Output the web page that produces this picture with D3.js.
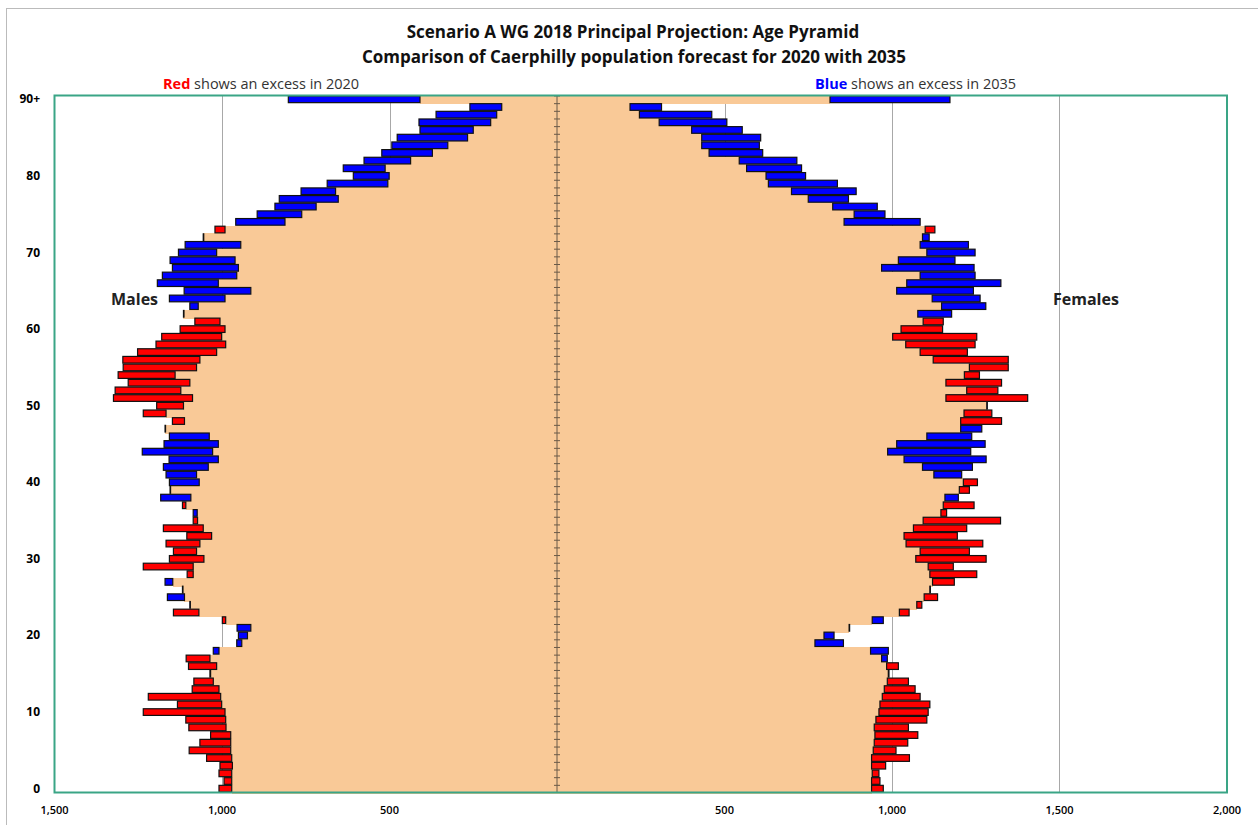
<!DOCTYPE html>
<html>
<head>
  <title>Age Pyramid</title>
  <script src="https://cdnjs.cloudflare.com/ajax/libs/d3/7.8.5/d3.min.js"></script>
  <style>
    body { margin: 0; background: #fff; }
    text { font-family: "Open Sans", "DejaVu Sans", sans-serif; }
    .title { font-size: 17px; font-weight: 700; fill: #111; }
    .note { font-size: 14.5px; }
    .ylab { font-size: 12px; font-weight: 700; }
    .xlab { font-size: 11px; font-weight: 600; }
    .side { font-size: 16px; font-weight: 700; fill: #222; }
  </style>
</head>
<body>
<svg width="1258" height="825"></svg>
<script>
// ages 0..90 (last one is 90+)
var ageLabels = ["0","10","20","30","40","50","60","70","80","90+"];
var xTicks = [-1500, -1000, -500, 500, 1000, 1500, 2000];
var gridTicks = [-1000, -500, 500, 1000, 1500];

// values, index = age
var male2020 = [1009,994,1009,1006,1046,1098,1066,1034,1099,1108,
  1235,1133,1220,1089,1084,1036,1100,1107,1009,941,
  924,914,999,1145,1096,1112,1118,1147,1104,1235,
  1157,1145,1167,1105,1175,1086,1074,1118,1093,1155,
  1068,1076,1041,1011,1028,1011,1038,1170,1148,1235,
  1195,1324,1319,1280,1310,1295,1296,1252,1197,1180,
  1125,1081,1115,1071,991,914,1011,956,951,961,
  1016,944,1056,1021,812,762,719,653,661,505,
  501,513,437,372,326,267,250,198,180,165,409];
var male2035 = [971,971,971,969,971,974,974,974,988,989,
  991,1001,1004,1009,1026,1034,1016,1036,1026,956,
  951,955,989,1069,1096,1163,1118,1170,1086,1086,
  1054,1076,1066,1031,1056,1073,1086,1108,1183,1155,
  1157,1167,1175,1158,1238,1173,1157,1170,1112,1167,
  1115,1088,1123,1096,1140,1076,1066,1016,989,1001,
  991,1006,1115,1096,1157,1113,1193,1178,1148,1155,
  1130,1110,1056,991,959,895,842,829,764,686,
  608,638,576,523,493,477,409,412,361,260,802];
var female2020 = [974,964,961,981,1052,1012,1047,1077,1049,1104,
  1108,1113,1084,1069,1049,991,1019,969,936,770,
  797,872,941,1051,1089,1136,1113,1186,1253,1183,
  1281,1231,1271,1195,1223,1324,1163,1245,1158,1231,
  1255,1125,1091,1036,987,1014,1104,1205,1327,1298,
  1283,1405,1316,1327,1261,1347,1347,1225,1248,1253,
  1151,1153,1077,1148,1120,1014,1044,1084,969,1019,
  1104,1084,1091,1128,857,887,823,750,700,631,
  624,566,544,454,432,432,402,305,246,218,815];
var female2035 = [939,939,941,939,939,944,947,949,947,952,
  961,964,971,977,986,989,984,986,989,855,
  827,872,974,1022,1074,1096,1113,1121,1113,1108,
  1071,1084,1042,1036,1064,1093,1146,1153,1198,1201,
  1213,1208,1240,1281,1235,1278,1238,1268,1205,1215,
  1283,1161,1223,1161,1216,1231,1123,1084,1041,1002,
  1027,1093,1178,1280,1263,1243,1325,1248,1245,1188,
  1248,1228,1111,1099,1084,979,956,870,893,837,
  742,730,716,614,604,608,553,507,462,312,1173];

var ages = d3.range(91);
var svg = d3.select("svg");

var x = d3.scaleLinear().domain([-1500, 2000]).range([54.5, 1227]);
var y = d3.scaleBand().domain(ages.slice().reverse()).range([95.5, 792.5]).padding(0);

// outer frame
svg.append("rect").attr("x", 6.5).attr("y", 8.5).attr("width", 1262).attr("height", 830)
    .attr("fill", "none").attr("stroke", "#bbb");

// titles
svg.append("text").attr("class", "title").attr("x", 633).attr("y", 38)
    .attr("text-anchor", "middle").text("Scenario A WG 2018 Principal  Projection: Age Pyramid");
svg.append("text").attr("class", "title").attr("x", 634).attr("y", 63)
    .attr("text-anchor", "middle").text("Comparison of Caerphilly population  forecast for 2020 with 2035");

var n1 = svg.append("text").attr("class", "note").attr("x", 163).attr("y", 89);
n1.append("tspan").attr("fill", "#ff0000").attr("font-weight", 700).text("Red");
n1.append("tspan").attr("fill", "#333").text(" shows an excess in 2020");
var n2 = svg.append("text").attr("class", "note").attr("x", 815).attr("y", 89);
n2.append("tspan").attr("fill", "#0000ff").attr("font-weight", 700).text("Blue");
n2.append("tspan").attr("fill", "#333").text(" shows an excess in 2035");

// gridlines
svg.append("g").selectAll("line").data(gridTicks).join("line")
    .attr("x1", d => Math.round(x(d)) + 0.5).attr("x2", d => Math.round(x(d)) + 0.5)
    .attr("y1", 95.5).attr("y2", 792.5)
    .attr("stroke", "#a8a8a8").attr("stroke-width", 1);

function rows(v20, v35, sign) {
  return ages.map(function(a) {
    var lo = Math.min(v20[a], v35[a]), hi = Math.max(v20[a], v35[a]);
    return {age: a, lo: lo, hi: hi, sign: sign, col: v20[a] > v35[a] ? "#ff0000" : "#0000ff"};
  });
}
var data = rows(male2020, male2035, -1).concat(rows(female2020, female2035, 1));

// beige base up to the smaller of the two years
svg.append("g").attr("shape-rendering", "crispEdges")
  .selectAll("rect").data(data).join("rect")
    .attr("x", d => Math.min(x(0), x(d.sign * d.lo)))
    .attr("width", d => Math.abs(x(d.sign * d.lo) - x(0)))
    .attr("y", d => y(d.age))
    .attr("height", y.bandwidth() + 1)
    .attr("fill", "#f9c997");

// difference bars
svg.append("g").selectAll("rect").data(data).join("rect")
    .attr("x", d => Math.min(x(d.sign * d.lo), x(d.sign * d.hi)))
    .attr("width", d => Math.max(0.5, Math.abs(x(d.sign * d.hi) - x(d.sign * d.lo))))
    .attr("y", d => y(d.age) + 0.5)
    .attr("height", y.bandwidth() - 1)
    .attr("fill", d => d.col)
    .attr("stroke", "#111").attr("stroke-width", 1.2);

// centre axis with a tick for every year
var cx = x(0);
svg.append("line").attr("x1", cx).attr("x2", cx).attr("y1", 95.5).attr("y2", 792.5)
    .attr("stroke", "#6b5a48").attr("stroke-width", 1);
svg.append("g").selectAll("line").data(ages).join("line")
    .attr("x1", cx - 3).attr("x2", cx + 3)
    .attr("y1", d => y(d) + 0.5).attr("y2", d => y(d) + 0.5)
    .attr("stroke", "#6b5a48").attr("stroke-width", 1);

// plot frame
svg.append("rect").attr("x", 54.5).attr("y", 95.5).attr("width", 1227 - 54.5).attr("height", 792.5 - 95.5)
    .attr("fill", "none").attr("stroke", "#3aa586").attr("stroke-width", 2);

// y labels (every 10 years)
svg.append("g").selectAll("text").data(ageLabels).join("text")
    .attr("class", "ylab")
    .attr("x", 40)
    .attr("y", (d, i) => y(i * 10) + y.bandwidth() / 2 + 4)
    .attr("text-anchor", "end")
    .text(d => d);

// x labels
svg.append("g").selectAll("text").data(xTicks).join("text")
    .attr("class", "xlab")
    .attr("x", d => x(d))
    .attr("y", 814)
    .attr("text-anchor", "middle")
    .text(d => d3.format(",")(Math.abs(d)));

svg.append("text").attr("class", "side").attr("x", 111).attr("y", 305).text("Males");
svg.append("text").attr("class", "side").attr("x", 1053).attr("y", 305).text("Females");
</script>
</body>
</html>
